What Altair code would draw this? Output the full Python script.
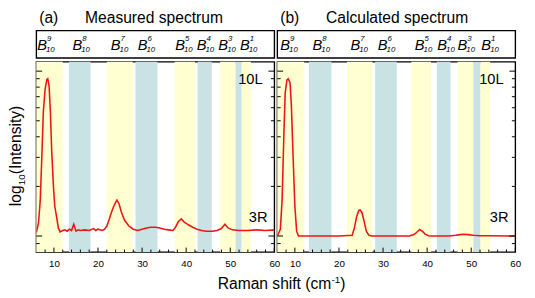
import altair as alt
import pandas as pd

FONT = "Liberation Sans"
X_DOMAIN = [6, 60]
Y_DOMAIN = [0.8, 11.4]
W = 244
H_HEAD = 28
H = 195

# ---- data ----
meas_x = [6.0, 6.5, 6.9, 7.3, 7.6, 8.0, 8.4, 8.6, 8.9, 9.2, 9.5, 9.9, 10.2, 10.6, 11.0, 11.4,
          12.0, 12.5, 13.0, 13.5, 14.0, 14.5, 15.0, 15.5, 16.0, 17.0, 18.0, 19.0, 19.5, 20.0,
          21.0, 21.5, 22.0, 22.5, 23.0, 23.5, 24.0, 24.3, 24.8, 25.3, 26.0, 27.0, 28.0, 29.0,
          30.0, 31.0, 32.0, 33.0, 34.0, 35.0, 36.0, 37.0, 37.5, 38.2, 38.9, 39.5, 40.5, 41.5,
          42.5, 43.5, 44.5, 46.0, 47.0, 48.0, 48.8, 49.5, 50.5, 52.0, 54.0, 56.0, 58.0, 60.0]
meas_y = [1.05, 1.20, 1.65, 3.27, 5.65, 7.78, 8.92, 9.0, 8.15, 5.65, 3.27, 1.98, 1.51, 1.31, 1.12, 1.06,
          1.08, 1.09, 1.07, 1.10, 1.08, 1.18, 1.07, 1.09, 1.08, 1.09, 1.08, 1.11, 1.08, 1.10,
          1.08, 1.10, 1.15, 1.25, 1.38, 1.50, 1.60, 1.65, 1.56, 1.40, 1.25, 1.15, 1.10, 1.08,
          1.10, 1.12, 1.13, 1.13, 1.12, 1.10, 1.09, 1.08, 1.12, 1.22, 1.27, 1.22, 1.17, 1.13,
          1.10, 1.08, 1.07, 1.07, 1.08, 1.11, 1.18, 1.12, 1.09, 1.08, 1.08, 1.09, 1.08, 1.09]

calc_x = [6.0, 6.7, 7.1, 7.5, 7.8, 8.2, 8.5, 8.9, 9.2, 9.6, 10.0, 10.4, 10.8, 15.0, 20.0, 23.0,
          23.5, 24.0, 24.5, 24.8, 25.2, 25.7, 26.2, 26.8, 27.5, 32.0, 36.0, 37.0, 37.6, 38.3,
          38.9, 39.5, 40.3, 41.0, 45.0, 46.5, 47.5, 48.3, 49.3, 50.5, 52.0, 54.0, 60.0]
calc_y = [1.0, 1.10, 1.65, 4.1, 7.4, 8.85, 9.0, 8.5, 6.2, 2.99, 1.51, 1.07, 1.0, 1.0, 1.0, 1.01,
          1.12, 1.31, 1.43, 1.44, 1.39, 1.23, 1.07, 1.01, 1.0, 1.0, 1.0, 1.02, 1.05, 1.095,
          1.07, 1.03, 1.005, 1.0, 1.0, 1.01, 1.02, 1.025, 1.02, 1.01, 1.005, 1.003, 1.0]

band_kind = ["y", "b", "y", "b", "y", "b", "y", "b", "y"]
bands_a_start = [6.0, 13.4, 22.0, 28.5, 37.4, 42.6, 47.7, 51.2, 52.6]
bands_a_end = [12.0, 18.3, 27.9, 33.5, 42.0, 45.8, 51.2, 52.6, 54.7]
bands_b_start = [6.0, 13.2, 21.8, 28.2, 36.4, 42.2, 46.9, 50.5, 52.1]
bands_b_end = [12.1, 18.3, 27.6, 33.1, 40.9, 45.3, 50.5, 52.1, 54.3]

label_sup = ["9", "8", "7", "6", "5", "4", "3", "1"]
label_x_a = [6.2, 14.2, 22.9, 29.0, 37.5, 42.4, 47.3, 52.2]
label_x_b = [6.7, 14.0, 22.6, 28.8, 37.2, 42.3, 46.9, 52.3]

x_labels = [10, 20, 30, 40, 50, 60]
x_minor = [8, 12, 14, 16, 18, 22, 24, 26, 28, 32, 34, 36, 38, 42, 44, 46, 48, 52, 54, 56, 58]
y_major = [1, 10]
y_minor = [0.9, 2, 3, 4, 5, 6, 7, 8, 9]

XS = alt.Scale(domain=X_DOMAIN, nice=False, zero=False)
YS = alt.Scale(type="log", domain=Y_DOMAIN, nice=False)
XAX = alt.Axis(values=x_labels, ticks=False, domain=False, grid=False, title=None,
               labelFontSize=10, labelFont=FONT, labelColor="black",
               labelPadding=7, labelFlush=False)


def txt(s, x, y, size, **kw):
    return alt.Chart(pd.DataFrame({"t": [s]})).mark_text(
        font=FONT, fontSize=size, align=kw.pop("align", "left"), baseline="alphabetic",
        color="black", **kw
    ).encode(x=alt.value(x), y=alt.value(y), text="t:N")


def header(tag, title, lx):
    df = pd.DataFrame({"x": lx, "sup": label_sup, "B": ["B"] * len(lx), "sub": ["10"] * len(lx)})
    base = alt.Chart(df)
    b = base.mark_text(font=FONT, fontSize=15, fontStyle="italic", align="left",
                       baseline="alphabetic", color="black").encode(
        x=alt.X("x:Q", scale=XS, axis=None), y=alt.value(19.5), text="B:N")
    sup = base.mark_text(font=FONT, fontSize=8, fontStyle="italic", align="left",
                         baseline="alphabetic", color="black", dx=10).encode(
        x=alt.X("x:Q", scale=XS, axis=None), y=alt.value(11), text="sup:N")
    sub = base.mark_text(font=FONT, fontSize=8, fontStyle="italic", align="left",
                         baseline="alphabetic", color="black", dx=9).encode(
        x=alt.X("x:Q", scale=XS, axis=None), y=alt.value(22.5), text="sub:N")
    return alt.layer(b, sup, sub, txt(tag, 3, -8, 16), txt(title, 50, -8, 16)).properties(
        width=W, height=H_HEAD)


def plot(px, py, bs, be, left):
    bands = alt.Chart(pd.DataFrame({"s": bs, "e": be, "k": band_kind})).mark_rect().encode(
        x=alt.X("s:Q", scale=XS, axis=XAX),
        x2="e:Q",
        y=alt.value(0), y2=alt.value(H),
        color=alt.Color("k:N", scale=alt.Scale(domain=["y", "b"], range=["#FFFFD2", "#C9E3E4"]),
                        legend=None))
    line = alt.Chart(pd.DataFrame({"x": px, "y": py})).mark_line(
        color="#EE1515", strokeWidth=1.6, clip=True).encode(
        x=alt.X("x:Q", scale=XS, axis=XAX), y=alt.Y("y:Q", scale=YS, axis=None))

    def yt(vals, x0, x1):
        return alt.Chart(pd.DataFrame({"t": vals})).mark_rule(color="black", strokeWidth=1).encode(
            y=alt.Y("t:Q", scale=YS, axis=None), x=alt.value(x0), x2=alt.value(x1))

    def xt(vals, ln):
        return alt.Chart(pd.DataFrame({"t": vals})).mark_rule(color="black", strokeWidth=1).encode(
            x=alt.X("t:Q", scale=XS, axis=XAX), y=alt.value(H), y2=alt.value(H - ln))

    layers = [bands, line,
              yt(y_minor, 0, 3.5), yt(y_major, 0, 6),
              yt(y_minor, W, W - 3.5), yt(y_major, W, W - 6),
              xt(x_minor, 2.5), xt(x_labels, 4.5),
              txt("10L", 232, 23, 15, align="right"),
              txt("3R", 237, 164, 15, align="right")]
    if left:
        layers += [
            txt("log", -15.5, 148, 16, angle=270),
            txt("10", -12, 126.5, 10, angle=270),
            txt("(Intensity)", -15.5, 115.3, 16, angle=270),
            txt("Raman shift (cm", 186, 233, 16),
            txt("-1", 302.5, 227, 10),
            txt(")", 311.5, 233, 16),
        ]
    return alt.layer(*layers).properties(width=W, height=H)


chart = alt.concat(
    header("(a)", "Measured spectrum", label_x_a),
    header("(b)", "Calculated spectrum", label_x_b),
    plot(meas_x, meas_y, bands_a_start, bands_a_end, True),
    plot(calc_x, calc_y, bands_b_start, bands_b_end, False),
    columns=2, spacing={"row": 4, "column": 3},
    bounds="flush",
).properties(
    padding={"left": -1, "top": -2.5, "right": 5, "bottom": 0}
).configure(font=FONT).configure_view(stroke="black", strokeWidth=1.4)

chart.save("out.html", embed_options={"renderer": "svg", "actions": False})
